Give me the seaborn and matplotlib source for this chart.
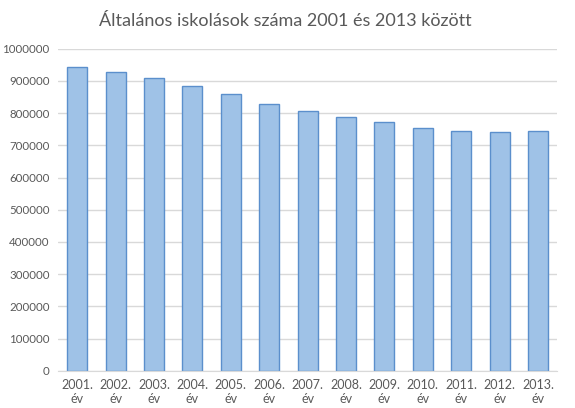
import numpy as np
import pandas as pd
import seaborn as sb
import matplotlib
matplotlib.use("Agg")
import matplotlib.pyplot as plt

# data
years = ["2001.", "2002.", "2003.", "2004.", "2005.", "2006.", "2007.",
         "2008.", "2009.", "2010.", "2011.", "2012.", "2013."]
pupils = [944000, 928600, 908000, 885100, 858400, 827300, 806500,
          787000, 771400, 754700, 744400, 741300, 744400]
yticks = [0, 100000, 200000, 300000, 400000, 500000, 600000, 700000,
          800000, 900000, 1000000]

labels = [y + "\név" for y in years]
df = pd.DataFrame({"ev": labels, "tanulok": pupils})

sb.set_style("white")
plt.rcParams["font.family"] = ["Lato", "DejaVu Sans"]

fig = plt.figure(figsize=(5.75, 4.08), dpi=100)
ax = fig.add_axes([0.101, 0.0914, 0.868, 0.789])

sb.barplot(data=df, x="ev", y="tanulok", ax=ax, color="#9fc2e7",
           edgecolor="#5b8fcc", linewidth=1.0, width=0.52, saturation=1)

ax.set_ylim(0, 1000000)
ax.set_yticks(yticks)
ax.set_yticklabels([str(v) for v in yticks])
ax.yaxis.grid(True, color="#d9d9d9", linewidth=1)
ax.set_axisbelow(True)
ax.set_xlim(-0.5, len(years) - 0.5)
for s in ["top", "right", "left"]:
    ax.spines[s].set_visible(False)
ax.spines["bottom"].set_color("#d9d9d9")
ax.tick_params(axis="both", length=0, colors="#595959")
ax.tick_params(axis="x", pad=6, labelsize=9)
ax.tick_params(axis="y", pad=6, labelsize=8.3)
ax.set_xlabel("")
ax.set_ylabel("")

fig.text(0.497, 0.948, "Általános iskolások száma 2001 és 2013 között",
         ha="center", va="center", fontsize=13, color="#595959")

fig.savefig("out.png", dpi=100, facecolor="white")
